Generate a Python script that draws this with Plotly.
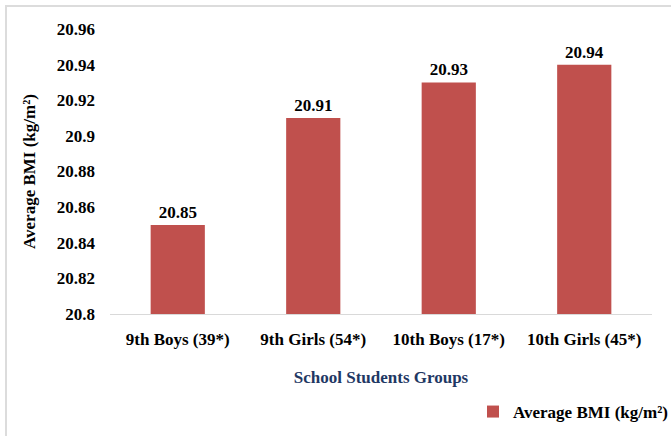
import plotly.graph_objects as go

categories = ["9th Boys (39*)", "9th Girls (54*)", "10th Boys (17*)", "10th Girls (45*)"]
bmi_values = [20.85, 20.91, 20.93, 20.94]
y_ticks = [20.8, 20.82, 20.84, 20.86, 20.88, 20.9, 20.92, 20.94, 20.96]
y_tick_labels = ["20.8", "20.82", "20.84", "20.86", "20.88", "20.9", "20.92", "20.94", "20.96"]
series_name = "Average BMI (kg/m²)"

W, H = 671, 436
L, R, T, B = 110, 19, 29, 122
pw, ph = W - L - R, H - T - B
FONT = "Times New Roman, Liberation Serif, serif"

def px_x(p):
    return (p - L) / pw

def px_y(p):
    return (H - B - p) / ph

fig = go.Figure()
fig.add_trace(go.Bar(
    x=categories, y=bmi_values, name=f"<b>{series_name}</b>",
    marker=dict(color="#C0504D", line=dict(width=0)),
    text=[f"<b>{v:.2f}</b>" for v in bmi_values],
    textposition="outside", cliponaxis=False,
    textfont=dict(size=17, color="black", family=FONT),
    showlegend=True,
))

fig.update_layout(
    width=W, height=H,
    margin=dict(l=L, r=R, t=T, b=B, autoexpand=False),
    paper_bgcolor="white", plot_bgcolor="white",
    font=dict(family=FONT, size=17, color="black"),
    bargap=0.6,
    showlegend=True,
    legend=dict(
        x=px_x(673), xanchor="right", y=px_y(412), yanchor="middle",
        font=dict(size=17, family=FONT, color="black"),
        bgcolor="rgba(0,0,0,0)", itemwidth=30,
    ),
    xaxis=dict(
        showgrid=False, showline=True, linecolor="#D9D9D9", linewidth=1,
        ticks="", tickfont=dict(size=17, family=FONT), ticklabelstandoff=10,
        tickvals=categories, ticktext=[f"<b>{c}</b>" for c in categories],
        title=dict(text="<b>School Students Groups</b>", standoff=22,
                   font=dict(size=17, color="#1F3864", family=FONT)),
    ),
    yaxis=dict(
        range=[20.8, 20.96], showgrid=False, showline=False, zeroline=False,
        tickvals=y_ticks, ticktext=[f"<b>{t}</b>" for t in y_tick_labels], ticks="",
        tickfont=dict(size=17, family=FONT), ticklabelstandoff=14,
        title=dict(text="<b>Average BMI (kg/m²)</b>", standoff=16,
                   font=dict(size=17, color="black", family=FONT)),
    ),
    shapes=[dict(
        type="rect", xref="paper", yref="paper",
        x0=px_x(6), x1=px_x(700), y0=px_y(460), y1=px_y(6),
        line=dict(color="#DCDCDC", width=2), fillcolor="rgba(0,0,0,0)", layer="below",
    )],
)

fig.write_html(
    "out.html",
    config={"displayModeBar": False},
    post_script="document.body.style.margin='0';document.body.style.padding='0';",
)
